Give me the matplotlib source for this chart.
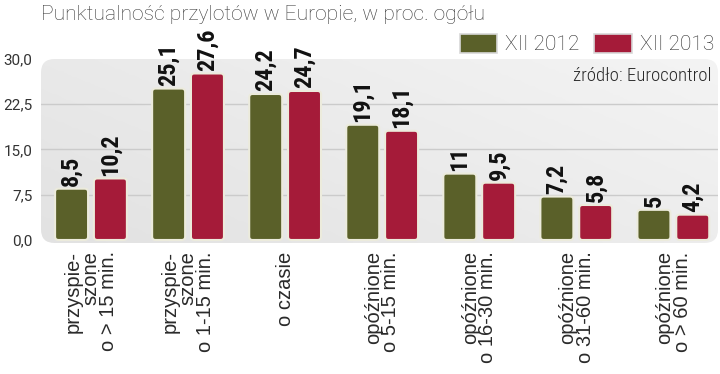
import matplotlib
matplotlib.use('Agg')
import numpy as np
import matplotlib.pyplot as plt
from matplotlib.patches import FancyBboxPatch, Patch

# dane
categories = ["przyspie-\nszone\no > 15 min.", "przyspie-\nszone\no 1-15 min.", "o czasie",
              "opóźnione\no 5-15 min.", "opóźnione\no 16-30 min.", "opóźnione\no 31-60 min.",
              "opóźnione\no > 60 min."]
dec_2012 = [8.5, 25.1, 24.2, 19.1, 11, 7.2, 5]
dec_2013 = [10.2, 27.6, 24.7, 18.1, 9.5, 5.8, 4.2]
labels_2012 = ["8,5", "25,1", "24,2", "19,1", "11", "7,2", "5"]
labels_2013 = ["10,2", "27,6", "24,7", "18,1", "9,5", "5,8", "4,2"]
series_names = ["XII 2012", "XII 2013"]
yticks = [0, 7.5, 15, 22.5, 30]
ytick_labels = ["0,0", "7,5", "15,0", "22,5", "30,0"]

GREEN = '#5a6029'
RED = '#a51b39'
TEXT = ['Roboto', 'DejaVu Sans']
COND = ['Roboto Condensed', 'Barlow Condensed', 'Liberation Sans Narrow', 'DejaVu Sans']
ARIAL = ['Liberation Sans', 'DejaVu Sans']

fig = plt.figure(figsize=(7.2, 3.74), dpi=100)
ax = fig.add_axes([41 / 720, 1 - 243 / 374, (718 - 41) / 720, 184 / 374])

# tlo panelu z gradientem
panel = FancyBboxPatch((0, 0), 1, 1, boxstyle='round,pad=0,rounding_size=0.02',
                       mutation_aspect=677 / 184, transform=ax.transAxes,
                       facecolor='none', edgecolor='none', zorder=0)
ax.add_patch(panel)
gx, gy = np.meshgrid(np.linspace(0, 1, 200), np.linspace(0, 1, 100))
grad = 0.6 * gx + 0.4 * gy
img = ax.imshow(grad, extent=[0, 1, 0, 1], transform=ax.transAxes, origin='lower',
                cmap=matplotlib.colors.LinearSegmentedColormap.from_list('bg', ['#e2e2e2', '#f4f4f4']),
                aspect='auto', zorder=0)
img.set_clip_path(panel)
ax.set_xlim(-0.515, 6.46)
ax.set_ylim(-0.5, 29.82)

for y in yticks[1:-1]:
    ax.axhline(y, color='#cbcbcb', lw=1, zorder=1)

x = np.arange(len(categories))
w = 0.34
bars_a = ax.bar(x - 0.2, dec_2012, w, color=GREEN, visible=False)
bars_b = ax.bar(x + 0.2, dec_2013, w, color=RED, visible=False)

# zaokraglone slupki
aspect = (1 / 6.067) / (1 / 97)
for bars, col in ((bars_a, GREEN), (bars_b, RED)):
    for b in bars:
        p = FancyBboxPatch((b.get_x(), b.get_y()), b.get_width(), b.get_height(),
                           boxstyle='round,pad=0,rounding_size=0.035', mutation_aspect=aspect,
                           facecolor=col, edgecolor='#ecebdc', lw=1.5, zorder=3)
        ax.add_patch(p)

for bars, labs in ((bars_a, labels_2012), (bars_b, labels_2013)):
    for b, t in zip(bars, labs):
        ax.annotate(t, (b.get_x() + b.get_width() / 2, b.get_height()), xytext=(0, 2),
                    textcoords='offset points', rotation=90, ha='center', va='bottom',
                    fontsize=17.5, fontweight='black', family=COND, color='#111111',
                    zorder=4, annotation_clip=False)

ax.tick_params(axis='both', length=0)
ax.tick_params(axis='y', pad=6)
ax.tick_params(axis='x', pad=6)
ax.set_yticks(yticks)
ax.set_yticklabels(ytick_labels, family=TEXT, fontsize=11, color='#333333')
ax.set_xticks(x)
ax.set_xticklabels(categories, rotation=90, ha='center', va='top', multialignment='right',
                   family=ARIAL, fontsize=14.5, color='#2a2a2a', linespacing=0.9)
for s in ax.spines.values():
    s.set_visible(False)
ax.patch.set_visible(False)

fig.text(41 / 720, 1 - 14 / 374, "Punktualność przylotów w Europie, w proc. ogółu",
         family=TEXT, fontsize=15.2, fontweight='light', color='#3a3a3a', va='center', ha='left')

ax.text(0.99, 0.905, "źródło: Eurocontrol", transform=ax.transAxes, ha='right', va='center',
        family=COND, fontsize=13.5, fontweight='light', color='#2a2a2a', zorder=4)

handles = [Patch(facecolor=GREEN, edgecolor='#d8d8d8', lw=1.2),
           Patch(facecolor=RED, edgecolor='#d8d8d8', lw=1.2)]
fig.legend(handles, series_names, loc='center right', bbox_to_anchor=(714 / 720, 1 - 44 / 374),
           ncol=2, frameon=False, borderpad=0, borderaxespad=0, handlelength=1.8,
           handleheight=1.05, handletextpad=0.38, columnspacing=0.71,
           prop={'family': TEXT, 'size': 15, 'weight': 'light'}, labelcolor='#2a2a2a')

fig.savefig('out.png', dpi=100)
